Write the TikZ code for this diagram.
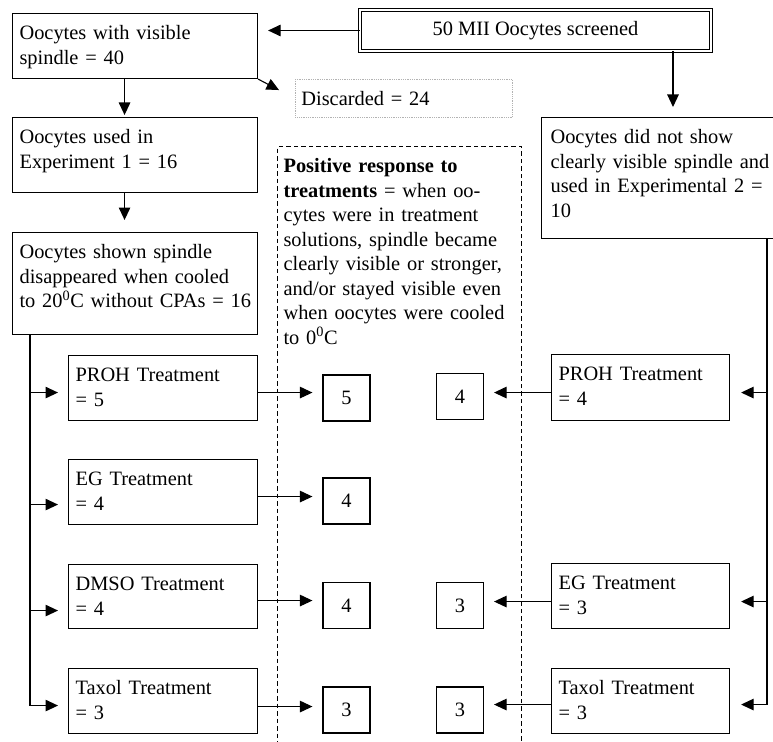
\documentclass[tikz,border=0pt]{standalone}
\usepackage{fontspec}
\setmainfont{Liberation Serif}
\usepackage{tikz}
\usetikzlibrary{arrows.meta}

\tikzset{
  tbox/.style={draw,line width=1.1pt,anchor=north west,align=left,inner xsep=7pt,inner ysep=4pt,text height=22pt},
  dbox/.style={draw,double,double distance=2pt,line width=0.9pt,minimum width=351pt,minimum height=41pt},
  dotbox/.style={draw=gray!60,densely dotted,line width=0.8pt,anchor=north west,align=left,inner xsep=6pt,text width=205pt,minimum height=38pt},
  res/.style={draw,line width=1.1pt,minimum width=47pt,minimum height=46pt,inner sep=0pt},
  arr/.style={-{Triangle[length=12.5pt,width=11.5pt]},line width=1.1pt,shorten >=10pt}
}

\begin{document}
\begin{tikzpicture}[x=1pt,y=-1pt,font=\fontsize{20.4pt}{24.5pt}\selectfont]
\clip (0,0) rectangle (773,741);
\node[dbox] (screened) at (535.5,30.5) {50 MII Oocytes screened};
\node[tbox,text width=231pt,text depth=35pt] (visible) at (12,13) {Oocytes with visible\\spindle = 40};
\node[dotbox] (discard) at (295,79) {Discarded = 24};
\node[tbox,text width=231pt,text depth=45pt] (exp1) at (12,117) {Oocytes used in\\Experiment 1 = 16};
\node[tbox,text width=231pt,text depth=72pt] (cooled) at (12,232) {Oocytes shown spindle\\disappeared when cooled\\\mbox{to 20\textsuperscript{0}C without CPAs = 16}};
\node[tbox,inner xsep=9pt,text width=240pt,text depth=91pt] (exp2) at (541,117) {Oocytes did not show\\\mbox{clearly visible spindle and}\\\mbox{used in Experimental 2 =}\\10};
\node[tbox,dash pattern=on 4.5pt off 3pt,inner xsep=6pt,text width=232pt,text depth=620pt] (positive) at (277,146)
  {\textbf{Positive response to}\\\textbf{treatments} = when oo-\\cytes were in treatment\\solutions, spindle became\\\mbox{clearly visible or stronger,}\\and/or stayed visible even\\\mbox{when oocytes were cooled}\\to 0\textsuperscript{0}C};
% experiment 1
\node[tbox,text width=175pt,text depth=35pt] (prohL) at (68,355) {PROH Treatment\\= 5};
\node[tbox,text width=175pt,text depth=35pt] (egL) at (68,459) {EG Treatment\\= 4};
\node[tbox,text width=175pt,text depth=34pt] (dmsoL) at (68,564) {DMSO Treatment\\= 4};
\node[tbox,text width=175pt,text depth=35pt] (taxolL) at (68,668) {Taxol Treatment\\= 3};
\node[res] (prohLout) at (346.5,398) {5};
\node[res] (egLout) at (346.5,501) {4};
\node[res] (dmsoLout) at (346.5,605.5) {4};
\node[res] (taxolLout) at (346.5,710) {3};
% experiment 2
\node[tbox,text width=164pt,text depth=36pt] (prohR) at (551,354) {PROH Treatment\\= 4};
\node[tbox,text width=164pt,text depth=35pt] (egR) at (551,563) {EG Treatment\\= 3};
\node[tbox,text width=164pt,text depth=35pt] (taxolR) at (551,668) {Taxol Treatment\\= 3};
\node[res] (prohRout) at (460,396.5) {4};
\node[res] (egRout) at (460,605.5) {3};
\node[res] (taxolRout) at (460,710) {3};

\draw[arr] (screened.west)--(screened.west -| visible.east);
\coordinate (sd) at ([xshift=137.5pt]screened.south);
\draw[arr] (sd)--(sd |- exp2.north);
\draw[arr,shorten >=18pt] (visible.south east)--(discard.west);
\coordinate (vd) at ([xshift=-10.5pt]visible.south);
\draw[arr,shorten >=2pt] (vd)--(vd |- exp1.north);
\coordinate (ed) at ([xshift=-10.5pt]exp1.south);
\draw[arr,shorten >=12pt] (ed)--(ed |- cooled.north);

\coordinate (tL) at ([xshift=18pt]cooled.south west);
\coordinate (pLi) at ([yshift=-4.5pt]prohL.west);
\coordinate (eLi) at ([yshift=-12.5pt]egL.west);
\coordinate (dLi) at ([yshift=-14pt]dmsoL.west);
\coordinate (tLi) at ([yshift=-4.5pt]taxolL.west);
\draw[arr] (tL) |- (tLi);
\draw[arr] (tL |- pLi)--(pLi);
\draw[arr] (tL |- eLi)--(eLi);
\draw[arr] (tL |- dLi)--(dLi);
\coordinate (pLo) at ([yshift=-4.5pt]prohL.east);
\coordinate (eLo) at ([yshift=-4.5pt]egL.east);
\coordinate (dLo) at ([yshift=-4pt]dmsoL.east);
\coordinate (tLo) at ([yshift=-5.5pt]taxolL.east);
\draw[arr] (pLo)--(pLo -| prohLout.west);
\draw[arr] (eLo)--(eLo -| egLout.west);
\draw[arr] (dLo)--(dLo -| dmsoLout.west);
\draw[arr] (tLo)--(tLo -| taxolLout.west);

\coordinate (tR) at ([xshift=226pt]exp2.south west);
\coordinate (pRi) at ([yshift=-5pt]prohR.east);
\coordinate (eRi) at ([yshift=-5.5pt]egR.east);
\coordinate (tRi) at ([yshift=-3.5pt]taxolR.east);
\draw[arr,shorten >=11pt] (tR) |- (tRi);
\draw[arr,shorten >=11pt] (tR |- pRi)--(pRi);
\draw[arr,shorten >=11pt] (tR |- eRi)--(eRi);
\coordinate (pRo) at ([yshift=-5pt]prohR.west);
\coordinate (eRo) at ([yshift=-5.5pt]egR.west);
\coordinate (tRo) at ([yshift=-3.5pt]taxolR.west);
\draw[arr] (pRo)--(pRo -| prohRout.east);
\draw[arr] (eRo)--(eRo -| egRout.east);
\draw[arr] (tRo)--(tRo -| taxolRout.east);
\end{tikzpicture}
\end{document}
